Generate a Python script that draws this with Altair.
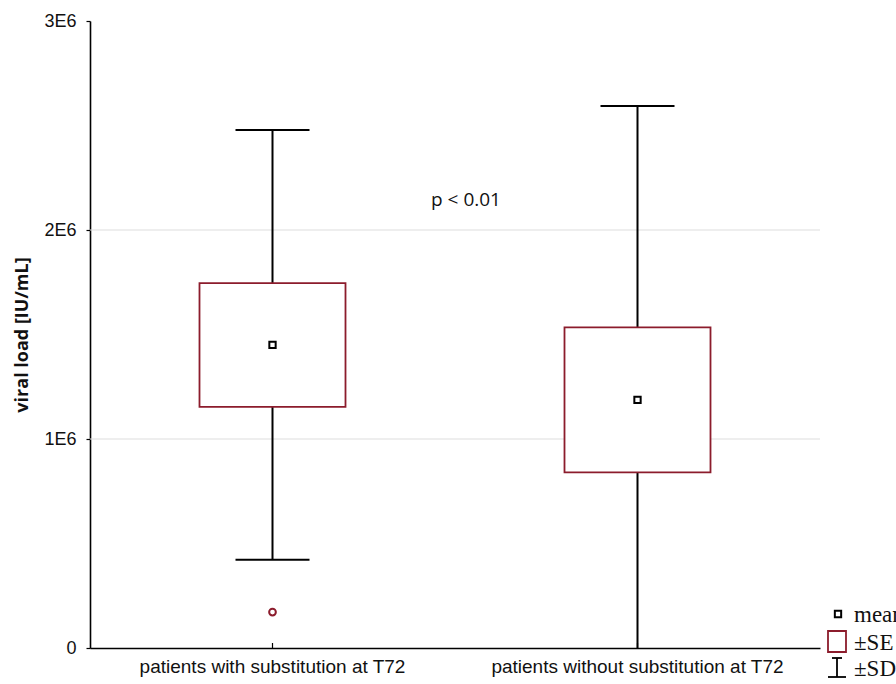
import altair as alt
import pandas as pd

# Group summaries: mean, ±SE box, ±SD whiskers, plus an outlying observation
groups = ["patients with substitution at T72", "patients without substitution at T72"]
means = [1.450e6, 1.187e6]
se = [0.296e6, 0.347e6]
sd = [1.028e6, 1.406e6]
outlier_group = ["patients with substitution at T72"]
outlier_value = [0.172e6]
grid_values = [1e6, 2e6]

df = pd.DataFrame({
    "group": groups,
    "mean": means,
    "se_lo": [m - s for m, s in zip(means, se)],
    "se_hi": [m + s for m, s in zip(means, se)],
    "sd_lo": [m - s for m, s in zip(means, sd)],
    "sd_hi": [m + s for m, s in zip(means, sd)],
})
out_df = pd.DataFrame({"group": outlier_group, "value": outlier_value})
grid_df = pd.DataFrame({"v": grid_values})

BOX_RED = "#8c1c2c"
W, H = 730, 627

x_scale = alt.Scale(paddingInner=0, paddingOuter=0)
x_enc = alt.X("group:N", sort=groups, scale=x_scale,
              axis=alt.Axis(title=None, labelAngle=0, ticks=False))
y_scale = alt.Scale(domain=[0, 3e6], nice=False, zero=True)
y_axis = alt.Axis(
    title="viral load [IU/mL]", values=[0, 1e6, 2e6, 3e6],
    labelExpr="datum.value == 0 ? '0' : (datum.value / 1000000) + 'E6'",
    grid=False,
)

base = alt.Chart(df)

grid = alt.Chart(grid_df).mark_rule(color="#dddddd", strokeWidth=1).encode(
    y=alt.Y("v:Q", scale=y_scale, axis=y_axis),
    x=alt.value(0), x2=alt.value(W),
)

whisker = base.mark_rule(color="black", strokeWidth=2, clip=True).encode(
    x=x_enc,
    y=alt.Y("sd_lo:Q", scale=y_scale, axis=y_axis),
    y2="sd_hi:Q",
)
cap_hi = base.mark_tick(color="black", size=74, thickness=2, clip=True, opacity=1).encode(
    x=x_enc, y=alt.Y("sd_hi:Q", scale=y_scale))
cap_lo = base.mark_tick(color="black", size=74, thickness=2, clip=True, opacity=1).encode(
    x=x_enc, y=alt.Y("sd_lo:Q", scale=y_scale))

box = base.mark_bar(size=146, fill="white", stroke=BOX_RED, strokeWidth=1.8).encode(
    x=x_enc,
    y=alt.Y("se_lo:Q", scale=y_scale),
    y2="se_hi:Q",
)

mean_pt = base.mark_square(size=40, filled=False, color="black", strokeWidth=2,
                           opacity=1).encode(
    x=x_enc, y=alt.Y("mean:Q", scale=y_scale))

outlier = alt.Chart(out_df).mark_point(
    shape="circle", size=45, filled=False, color=BOX_RED, strokeWidth=2, opacity=1
).encode(x=x_enc, y=alt.Y("value:Q", scale=y_scale))

xticks = base.mark_rule(color="black", strokeWidth=1.2).encode(
    x=x_enc, y=alt.value(H - 5), y2=alt.value(H))

ptext = alt.Chart(pd.DataFrame({"t": ["p < 0.01"], "v": [2.143e6]})).mark_text(
    font="Open Sans", fontSize=19, color="#111", align="center", baseline="middle"
).encode(text="t:N", x=alt.value(376), y=alt.Y("v:Q", scale=y_scale))

# Legend drawn beside the plot area
legend_text = alt.Chart(pd.DataFrame({
    "t": ["mean", "±SE", "±SD"], "yy": [594, 622, 648]
})).mark_text(
    font="Liberation Serif", fontSize=23, color="#111", align="left", baseline="middle"
).encode(text="t:N", x=alt.value(764), y=alt.Y("yy:Q", scale=None))

leg_mean = alt.Chart(pd.DataFrame({"a": [0]})).mark_square(
    size=40, filled=False, color="black", strokeWidth=2, opacity=1
).encode(x=alt.value(748), y=alt.value(593))
leg_se = alt.Chart(pd.DataFrame({"a": [0]})).mark_rect(
    fill="white", stroke=BOX_RED, strokeWidth=1.8
).encode(x=alt.value(738), x2=alt.value(756), y=alt.value(610), y2=alt.value(631))
leg_sd_v = alt.Chart(pd.DataFrame({"a": [0]})).mark_rule(color="black", strokeWidth=1.8).encode(
    x=alt.value(747), y=alt.value(637), y2=alt.value(656))
leg_sd_t = alt.Chart(pd.DataFrame({"a": [0]})).mark_rule(color="black", strokeWidth=1.8).encode(
    x=alt.value(742), x2=alt.value(752), y=alt.value(637))
leg_sd_b = alt.Chart(pd.DataFrame({"a": [0]})).mark_rule(color="black", strokeWidth=1.8).encode(
    x=alt.value(738), x2=alt.value(756), y=alt.value(656))

chart = alt.layer(
    grid, whisker, cap_hi, cap_lo, box, mean_pt, outlier, xticks, ptext,
    legend_text, leg_mean, leg_se, leg_sd_v, leg_sd_t, leg_sd_b,
).properties(
    width=W, height=H,
    autosize=alt.AutoSizeParams(type="none"),
    padding={"left": 90, "top": 21, "right": 76, "bottom": 36},
    background="white",
).configure_view(
    stroke=None
).configure_axis(
    domainColor="black", domainWidth=1.6, labelColor="#111", titleColor="#111",
    labelFont="Liberation Sans", titleFont="Open Sans",
).configure_axisX(
    labelFontSize=19, labelPadding=9, labelLimit=0, ticks=False,
).configure_axisY(
    labelFontSize=18, labelFontWeight="normal", labelPadding=10,
    tickColor="black", tickSize=4, tickWidth=1.2,
    titleFontSize=18, titleFontWeight="bold", titlePadding=12,
)

chart.save("out.html", embed_options={"renderer": "svg", "actions": False})
